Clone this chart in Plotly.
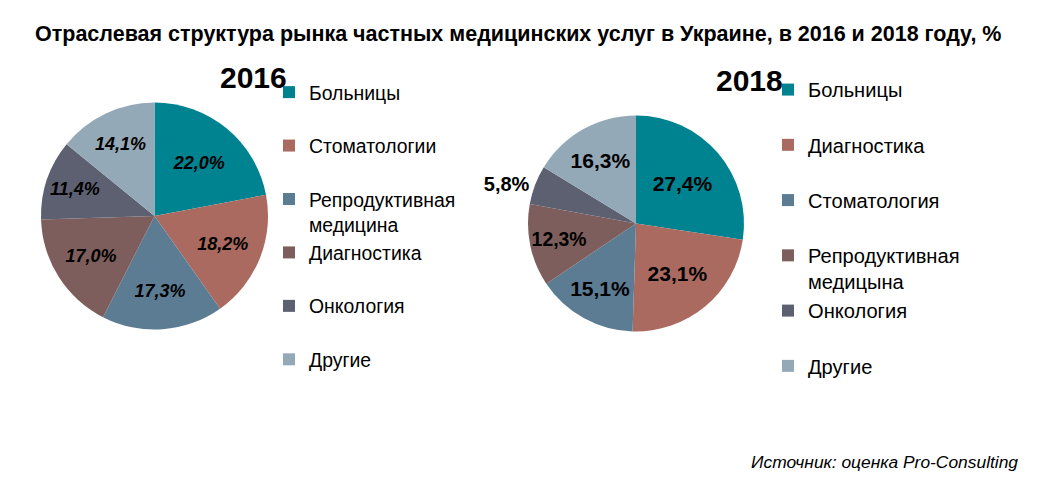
import plotly.graph_objects as go

# ---- data ----
cats_2016 = ["Больницы", "Стоматологии", "Репродуктивная медицина", "Диагностика", "Онкология", "Другие"]
vals_2016 = [22.0, 18.2, 17.3, 17.0, 11.4, 14.1]
cats_2018 = ["Больницы", "Диагностика", "Стоматология", "Репродуктивная медицына", "Онкология", "Другие"]
vals_2018 = [27.4, 23.1, 15.1, 12.3, 5.8, 16.3]
colors = ["#008391", "#ab6a60", "#5c7c93", "#7d5e5c", "#5d6070", "#94a9b7"]

title_text = "Отраслевая структура рынка частных медицинских услуг в Украине, в 2016 и 2018 году, %"
source_text = "Источник: оценка Pro-Consulting"

# page body has an 8px margin; figure is sized to fit the window
OFF = 8
W, H = 1050 - OFF, 481 - OFF


def px(x):
    return (x - OFF) / W


def py(y):
    return 1 - (y - OFF) / H


def legend_label(name, suffix=""):
    parts = name.split(" ")
    if len(parts) > 1:
        return parts[0] + "<br>" + " ".join(parts[1:]) + suffix
    return name + "<br>&nbsp;" + suffix


fig = go.Figure()

fig.add_trace(go.Pie(
    labels=[legend_label(c) for c in cats_2016],
    values=vals_2016,
    sort=False, direction="clockwise", rotation=0,
    marker=dict(colors=colors, line=dict(width=0)),
    texttemplate="%{value:.1f}%",
    textposition="inside",
    insidetextorientation="horizontal",
    textfont=dict(family="Liberation Sans", size=18, color="black", weight="bold", style="italic"),
    domain=dict(x=[px(41), px(268)], y=[py(329.5), py(102.5)]),
    legend="legend",
    hoverinfo="label+value",
))

fig.add_trace(go.Pie(
    labels=[legend_label(c, "\u200b") for c in cats_2018],
    values=vals_2018,
    sort=False, direction="clockwise", rotation=0,
    marker=dict(colors=colors, line=dict(width=0)),
    texttemplate="%{value:.1f}%",
    textposition=["inside", "inside", "inside", "inside", "outside", "inside"],
    insidetextorientation="horizontal",
    textfont=dict(family="Liberation Sans", size=21, color="black", weight="bold"),
    outsidetextfont=dict(family="Liberation Sans", size=20, color="black", weight="bold"),
    domain=dict(x=[px(528), px(744)], y=[py(332), py(115)]),
    legend="legend2",
    hoverinfo="label+value",
))

fig.update_layout(
    width=W, height=H,
    margin=dict(l=0, r=0, t=0, b=0),
    paper_bgcolor="white",
    separators=", ",
    font=dict(family="Liberation Sans", color="black"),
    legend=dict(x=px(269), y=py(73), xanchor="left", yanchor="top",
                valign="top", font=dict(size=19.4, family="Liberation Sans"),
                traceorder="normal", bgcolor="rgba(0,0,0,0)"),
    legend2=dict(x=px(768), y=py(70), xanchor="left", yanchor="top",
                 valign="top", font=dict(size=20.1, family="Liberation Sans"),
                 traceorder="normal", bgcolor="rgba(0,0,0,0)"),
    annotations=[
        dict(text="<b>" + title_text + "</b>", x=px(517.5), y=py(34), xref="paper", yref="paper",
             xanchor="center", yanchor="middle", showarrow=False, font=dict(size=21.5)),
        dict(text="<b>2016</b>", x=px(289), y=py(77), xref="paper", yref="paper",
             xanchor="right", yanchor="middle", showarrow=False, font=dict(size=30)),
        dict(text="<b>2018</b>", x=px(785), y=py(81), xref="paper", yref="paper",
             xanchor="right", yanchor="middle", showarrow=False, font=dict(size=30)),
        dict(text="<i>" + source_text + "</i>", x=px(1020), y=py(462), xref="paper", yref="paper",
             xanchor="right", yanchor="middle", showarrow=False, font=dict(size=17.4)),
    ],
)

fig.write_html("out.html")
